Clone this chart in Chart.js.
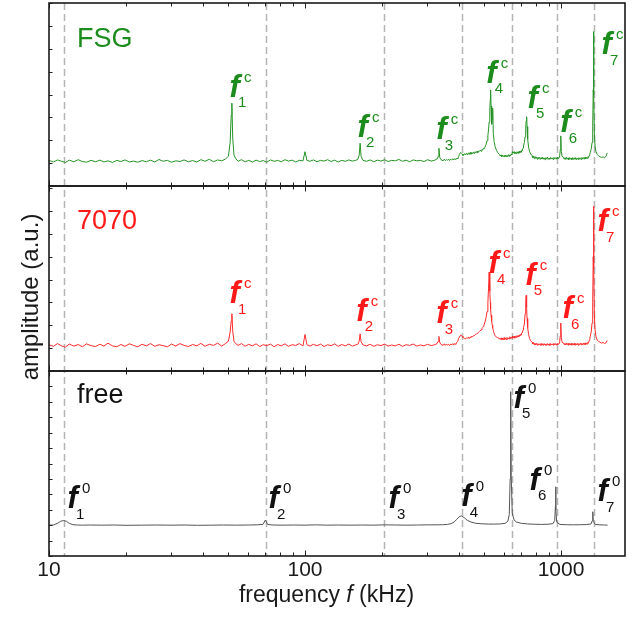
<!DOCTYPE html>
<html><head><meta charset="utf-8">
<script src="https://cdn.jsdelivr.net/npm/chart.js@4.4.1/dist/chart.umd.min.js"></script>
<style>html,body{margin:0;padding:0;background:#fff;}#wrap{position:relative;width:635px;height:617px;}</style>
</head><body><div id="wrap"><canvas id="c"></canvas></div>
<script>
// ---------- data ----------
const compFreq = [
  10, 10.4, 10.8, 11.2, 11.6, 12.0, 12.5, 13.0, 13.5, 14.0, 14.6, 15.2, 15.8, 16.4, 17.0, 17.7, 18.4, 19.1, 19.8, 20.6,
  21.4, 22.2, 23.1, 24.0, 24.9, 25.9, 26.9, 27.9, 29.0, 30.1, 31.3, 32.5, 33.7, 35.0, 36.4, 37.8, 39.2, 40.7, 42.3, 43.9,
  45.6, 47.3, 48.9,
  50.2, 51.0, 51.5, 51.8, 52.2, 52.8, 53.6,
  54.8, 56.5, 58.4, 60.3, 62.3, 64.4, 66.5, 68.7, 71.0, 73.3, 75.7, 78.2, 80.8, 83.5, 86.2, 89.1, 92.0, 95.0, 98.2, 100.0,
  101.8, 104.5, 107.9, 111.4, 115.0, 118.7, 122.5, 126.5, 130.6, 134.8, 139.2, 143.7, 148.3, 153.1, 157.5, 160.8,
  162.8, 164.2, 165.6, 168.5,
  174, 179.7, 185.6, 191.7, 198, 204.5, 211.2, 218.1, 225.3, 232.7, 240.3, 248.2, 256.3, 264.7, 273.4, 282.4, 291.6, 301.2, 311.1, 321.3, 328,
  331.5, 333.5, 336, 340,
  346, 350, 353, 357, 360, 364, 367, 371, 374, 378, 381, 385, 388, 392, 395, 398, 401, 404, 406, 409,
  411, 414, 417, 421, 424, 428, 431, 435, 438, 442, 445, 449, 452, 456, 459, 463, 466, 470, 473, 477,
  480, 484, 487, 491, 494, 497, 500,
  505, 510, 514, 518, 521, 524, 527, 529.5, 531, 533, 536, 539, 541, 544, 548, 553, 560, 567,
  575, 579, 583, 587, 591, 595, 599, 603, 607, 611, 615, 619, 623, 627, 631, 635, 639, 643, 646, 649,
  652, 656, 659, 663, 666, 670, 673, 677, 680, 684, 687, 691, 694, 698, 701, 705, 708, 711, 714,
  719, 724, 728, 731, 734, 737, 741, 747, 754, 762,
  771, 776, 781, 786, 791, 796, 802, 807, 813, 818, 824, 830, 836, 842, 848, 854, 860, 866, 872, 878,
  885, 891, 898, 904, 911, 917, 924, 931, 938, 945, 952, 959, 966, 972, 978, 983, 988,
  994, 998, 1003, 1010,
  1022, 1029, 1036, 1043, 1050, 1057, 1065, 1072, 1080, 1087, 1095, 1102, 1110, 1118, 1126, 1134, 1142, 1150, 1158, 1166,
  1174, 1182, 1190, 1198, 1207, 1215, 1224, 1232, 1241, 1249, 1258, 1266, 1274, 1281, 1288, 1294, 1300,
  1312, 1322, 1330, 1336, 1340, 1344, 1350, 1358, 1370,
  1385, 1402, 1420, 1440, 1460, 1480, 1500, 1515
];
const fsgAmp = [
  0.12, 0.05, 0.14, 0.08, 0.03, 0.13, 0.06, 0.15, 0.07, 0.04, 0.12, 0.06, 0.13, 0.05, 0.10, 0.03, 0.12, 0.07, 0.14, 0.05,
  0.09, 0.04, 0.11, 0.06, 0.13, 0.05, 0.16, 0.08, 0.12, 0.04, 0.10, 0.07, 0.14, 0.06, 0.11, 0.05, 0.15, 0.08, 0.17, 0.06,
  0.14, 0.10, 0.18,
  0.30, 0.90, 2.10, 2.62, 1.10, 0.35, 0.20,
  0.08, 0.15, 0.06, 0.12, 0.05, 0.13, 0.07, 0.11, 0.04, 0.14, 0.08, 0.12, 0.06, 0.15, 0.09, 0.13, 0.05, 0.12, 0.10, 0.50,
  0.12, 0.08, 0.14, 0.06, 0.12, 0.09, 0.15, 0.07, 0.13, 0.05, 0.12, 0.08, 0.14, 0.09, 0.12, 0.16,
  0.35, 0.87, 0.30, 0.12,
  0.08, 0.14, 0.06, 0.13, 0.09, 0.15, 0.07, 0.12, 0.10, 0.16, 0.08, 0.13, 0.06, 0.14, 0.10, 0.12, 0.07, 0.15, 0.09, 0.13, 0.18,
  0.30, 0.65, 0.25, 0.15,
  0.10, 0.17, 0.11, 0.16, 0.12, 0.18, 0.11, 0.17, 0.13, 0.19, 0.14, 0.20, 0.15, 0.22, 0.18, 0.28, 0.38, 0.45, 0.46, 0.42,
  0.40, 0.33, 0.35, 0.42, 0.37, 0.43, 0.36, 0.45, 0.38, 0.47, 0.39, 0.46, 0.41, 0.49, 0.42, 0.50, 0.45, 0.52, 0.46, 0.53,
  0.52, 0.57, 0.52, 0.60, 0.58, 0.64, 0.62,
  0.70, 0.82, 0.98, 1.20, 1.45, 1.80, 2.30, 2.80, 3.20, 2.50, 1.70, 1.90, 2.40, 1.30, 0.95, 0.72, 0.55, 0.45,
  0.38, 0.31, 0.36, 0.29, 0.35, 0.28, 0.33, 0.27, 0.35, 0.29, 0.34, 0.28, 0.37, 0.30, 0.36, 0.31, 0.40, 0.36, 0.50, 0.44,
  0.48, 0.42, 0.50, 0.43, 0.47, 0.41, 0.50, 0.44, 0.49, 0.43, 0.52, 0.46, 0.52, 0.48, 0.56, 0.55, 0.62, 0.66, 0.75,
  0.90, 1.15, 1.50, 1.85, 2.03, 1.60, 1.05, 0.70, 0.50, 0.40,
  0.32, 0.24, 0.30, 0.20, 0.29, 0.21, 0.27, 0.17, 0.26, 0.19, 0.25, 0.16, 0.24, 0.18, 0.26, 0.17, 0.23, 0.15, 0.24, 0.18,
  0.26, 0.16, 0.22, 0.17, 0.25, 0.18, 0.23, 0.16, 0.25, 0.19, 0.24, 0.17, 0.25, 0.19, 0.23, 0.26, 0.32,
  0.60, 1.19, 0.50, 0.30,
  0.26, 0.18, 0.24, 0.16, 0.25, 0.17, 0.23, 0.15, 0.24, 0.17, 0.22, 0.15, 0.24, 0.16, 0.23, 0.17, 0.24, 0.15, 0.22, 0.16,
  0.24, 0.17, 0.23, 0.16, 0.25, 0.18, 0.24, 0.17, 0.26, 0.19, 0.25, 0.20, 0.28, 0.24, 0.33, 0.36, 0.45,
  0.60, 0.90, 1.60, 3.20, 5.75, 3.00, 1.30, 0.75, 0.50,
  0.38, 0.32, 0.28, 0.25, 0.27, 0.24, 0.30, 0.45
];
const glassAmp = [
  0.15, 0.08, 0.20, 0.10, 0.05, 0.18, 0.09, 0.16, 0.06, 0.19, 0.11, 0.07, 0.17, 0.09, 0.22, 0.10, 0.06, 0.16, 0.08, 0.19,
  0.12, 0.06, 0.17, 0.10, 0.20, 0.08, 0.15, 0.11, 0.06, 0.18, 0.09, 0.20, 0.12, 0.07, 0.16, 0.10, 0.21, 0.08, 0.17, 0.12,
  0.22, 0.09, 0.20,
  0.30, 0.70, 1.20, 1.51, 0.75, 0.30, 0.20,
  0.12, 0.20, 0.08, 0.17, 0.10, 0.19, 0.07, 0.15, 0.11, 0.18, 0.06, 0.16, 0.10, 0.19, 0.08, 0.15, 0.12, 0.20, 0.10, 0.60,
  0.15, 0.09, 0.17, 0.10, 0.18, 0.07, 0.15, 0.11, 0.19, 0.08, 0.16, 0.10, 0.18, 0.09, 0.14, 0.17,
  0.30, 0.63, 0.28, 0.14,
  0.10, 0.17, 0.08, 0.15, 0.11, 0.18, 0.09, 0.14, 0.10, 0.17, 0.08, 0.15, 0.12, 0.18, 0.09, 0.14, 0.10, 0.17, 0.11, 0.15, 0.20,
  0.30, 0.51, 0.25, 0.16,
  0.12, 0.19, 0.12, 0.18, 0.13, 0.17, 0.11, 0.18, 0.14, 0.20, 0.14, 0.21, 0.16, 0.26, 0.30, 0.42, 0.48, 0.55, 0.58, 0.55,
  0.52, 0.47, 0.45, 0.41, 0.40, 0.46, 0.44, 0.48, 0.42, 0.49, 0.47, 0.53, 0.50, 0.56, 0.55, 0.60, 0.60, 0.65, 0.66, 0.70,
  0.72, 0.76, 0.80, 0.85, 0.90, 0.95, 1.00,
  1.15, 1.35, 1.60, 2.00, 2.60, 3.33, 2.50, 2.00, 1.70, 1.45, 1.20, 1.00, 0.90, 0.78, 0.65, 0.55, 0.48, 0.45,
  0.42, 0.38, 0.45, 0.37, 0.43, 0.36, 0.46, 0.38, 0.44, 0.37, 0.47, 0.39, 0.45, 0.40, 0.50, 0.42, 0.47, 0.43, 0.52, 0.45,
  0.50, 0.44, 0.53, 0.46, 0.52, 0.47, 0.55, 0.49, 0.54, 0.50, 0.58, 0.53, 0.60, 0.58, 0.66, 0.68, 0.75, 0.80, 0.90,
  1.05, 1.50, 2.00, 2.31, 1.80, 1.30, 0.90, 0.60, 0.42, 0.32,
  0.26, 0.19, 0.24, 0.15, 0.22, 0.14, 0.21, 0.13, 0.20, 0.14, 0.19, 0.12, 0.20, 0.13, 0.19, 0.12, 0.20, 0.13, 0.18, 0.12,
  0.20, 0.13, 0.19, 0.12, 0.20, 0.14, 0.19, 0.13, 0.21, 0.14, 0.20, 0.13, 0.20, 0.15, 0.19, 0.22, 0.30,
  0.55, 1.10, 0.45, 0.25,
  0.23, 0.16, 0.21, 0.14, 0.22, 0.15, 0.21, 0.13, 0.20, 0.14, 0.21, 0.13, 0.20, 0.14, 0.21, 0.13, 0.20, 0.14, 0.21, 0.13,
  0.20, 0.14, 0.22, 0.15, 0.21, 0.14, 0.22, 0.15, 0.23, 0.16, 0.23, 0.18, 0.27, 0.24, 0.33, 0.38, 0.50,
  0.70, 1.10, 2.00, 4.00, 6.21, 3.50, 1.50, 0.80, 0.50,
  0.35, 0.30, 0.26, 0.22, 0.25, 0.20, 0.24, 0.34
];
const freeFreq = [
  10, 10.4, 10.8, 11.1, 11.4, 11.7, 12.0, 12.4, 12.9, 13.5, 14.5, 16, 18, 20, 23, 26, 30, 34, 38, 43,
  48, 54, 60, 65, 68.5, 70.0, 71.5, 75, 82, 90, 100, 110, 122, 135, 150, 166, 184, 204, 226, 250,
  275, 300, 325, 345, 360, 372, 382, 392, 400, 408, 418, 430, 445, 465, 490, 520, 550, 580, 605, 620,
  628, 633, 636, 639, 645, 655, 670, 700, 740, 790, 840, 890, 930, 945, 951, 953, 956, 962, 990, 1050,
  1120, 1190, 1260, 1310, 1326, 1331, 1336, 1360, 1420, 1480, 1520
];
const freeAmp = [
  0.00, 0.01, 0.12, 0.25, 0.30, 0.25, 0.12, 0.03, 0.01, 0.00, 0.01, 0.00, 0.01, -0.01, 0.00, 0.01, 0.00, 0.01, -0.01, 0.00,
  0.01, 0.00, 0.01, 0.02, 0.05, 0.33, 0.04, 0.01, 0.00, 0.01, 0.00, 0.02, 0.00, 0.01, 0.00, 0.01, 0.00, 0.02, 0.01, 0.00,
  0.01, 0.02, 0.02, 0.03, 0.05, 0.10, 0.20, 0.38, 0.55, 0.60, 0.50, 0.32, 0.20, 0.12, 0.09, 0.07, 0.07, 0.08, 0.12, 0.25,
  0.70, 3.00, 8.66, 3.20, 0.80, 0.35, 0.20, 0.12, 0.08, 0.06, 0.05, 0.06, 0.10, 0.30, 1.20, 2.49, 1.00, 0.20, 0.05, 0.03,
  0.02, 0.03, 0.04, 0.08, 0.30, 0.87, 0.25, 0.05, 0.02, 0.01, 0.00
];
const freeModes = [11.47, 70.4, 204, 412, 645, 967, 1349];
const xTickLabels = [10, 100, 1000];
const xMinorTicks = [20, 30, 40, 50, 60, 70, 80, 90, 200, 300, 400, 500, 600, 700, 800, 900];
const panelNames = ['FSG', '7070', 'free'];
const modeSubs = ['1', '2', '3', '4', '5', '6', '7'];
// label anchors (frequency, amplitude) of each mode label
const fsgLabelFreq = [50.93, 161.1, 326.9, 512.5, 743, 997, 1446];
const fsgLabelAmp = [2.91, 1.16, 1.04, 3.52, 2.43, 1.34, 4.76];
const glassLabelFreq = [50.93, 159.2, 326.9, 523.2, 727.9, 1018, 1395];
const glassLabelAmp = [1.97, 1.21, 1.10, 3.29, 2.78, 1.32, 5.11];
const freeLabelFreq = [11.86, 72.36, 212.9, 409.4, 655.3, 756.6, 1395];
const freeLabelAmp = [1.12, 1.12, 1.12, 1.23, 7.62, 2.31, 1.55];

// ---------- drawing ----------
const SANS = '"Liberation Sans", Arial, sans-serif';
const panels = [
  {id: 'yTop', name: panelNames[0], color: '#1c8c1c', lf: fsgLabelFreq, la: fsgLabelAmp, sup: 'c', nameDy: 44},
  {id: 'yMid', name: panelNames[1], color: '#ff1a1a', lf: glassLabelFreq, la: glassLabelAmp, sup: 'c', nameDy: 43.3},
  {id: 'yBot', name: panelNames[2], color: '#111111', lf: freeLabelFreq, la: freeLabelAmp, sup: '0', nameDy: 31.7}
];

const decor = {
  id: 'decor',
  beforeDatasetsDraw(chart) {
    const {ctx, chartArea: a, scales: {x}} = chart;
    ctx.save();
    ctx.strokeStyle = '#b4b4b4';
    ctx.lineWidth = 1.5;
    ctx.setLineDash([7, 4]);
    freeModes.forEach(f => {
      const px = Math.round(x.getPixelForValue(f)) + 0.5;
      ctx.beginPath(); ctx.moveTo(px, a.top); ctx.lineTo(px, a.bottom); ctx.stroke();
    });
    ctx.restore();
  },
  afterDatasetsDraw(chart) {
    const {ctx, scales} = chart;
    const x = scales.x;
    ctx.save();
    panels.forEach(p => {
      const y = scales[p.id];
      const L = x.left, R = x.right, T = y.top, B = y.bottom;
      ctx.setLineDash([]);
      ctx.strokeStyle = '#222';
      ctx.lineWidth = 1;
      ctx.beginPath();
      xMinorTicks.forEach(v => {
        const px = Math.round(x.getPixelForValue(v)) + 0.5;
        ctx.moveTo(px, T); ctx.lineTo(px, T + 3.5);
        ctx.moveTo(px, B); ctx.lineTo(px, B - 3.5);
      });
      xTickLabels.forEach(v => {
        const px = Math.round(x.getPixelForValue(v)) + 0.5;
        ctx.moveTo(px, T); ctx.lineTo(px, T + 5.5);
        ctx.moveTo(px, B); ctx.lineTo(px, B - 5.5);
      });
      for (let v = Math.ceil(y.min); v <= y.max; v++) {
        const py = Math.round(y.getPixelForValue(v)) + 0.5;
        ctx.moveTo(L, py); ctx.lineTo(L + 3.5, py);
      }
      ctx.stroke();
      ctx.lineWidth = 1.6;
      ctx.strokeStyle = '#1a1a1a';
      ctx.strokeRect(L, T, R - L, B - T);

      ctx.fillStyle = p.color;
      ctx.textAlign = 'left';
      ctx.textBaseline = 'alphabetic';
      ctx.font = '27px ' + SANS;
      ctx.fillText(p.name, L + 28, T + p.nameDy);
      p.lf.forEach((f, i) => {
        const px = x.getPixelForValue(f), py = y.getPixelForValue(p.la[i]);
        ctx.font = 'italic bold 31px ' + SANS;
        ctx.fillText('f', px - 0.5, py);
        ctx.font = '15px ' + SANS;
        ctx.fillText(p.sup, px + 14, py - 15);
        ctx.fillText(modeSubs[i], px + 8, py + 10.6);
      });
    });
    ctx.restore();
  },
  afterDraw(chart) {
    const {ctx} = chart;
    ctx.save();
    ctx.fillStyle = '#1a1a1a';
    ctx.textBaseline = 'alphabetic';
    const parts = [['frequency ', '23px ' + SANS], ['f', 'italic 23px ' + SANS], [' (kHz)', '23px ' + SANS]];
    let w = 0;
    parts.forEach(pt => { ctx.font = pt[1]; w += ctx.measureText(pt[0]).width; });
    let cx = 326.5 - w / 2;
    ctx.textAlign = 'left';
    parts.forEach(pt => { ctx.font = pt[1]; ctx.fillText(pt[0], cx, 602); cx += ctx.measureText(pt[0]).width; });
    ctx.translate(37.5, 297);
    ctx.rotate(-Math.PI / 2);
    ctx.textAlign = 'center';
    ctx.font = '24px ' + SANS;
    ctx.fillText('amplitude (a.u.)', 0, 0);
    ctx.restore();
  }
};

const pts = (xs, ys) => xs.map((v, i) => ({x: v, y: ys[i]}));

new Chart(document.getElementById('c'), {
  type: 'line',
  data: {
    datasets: [
      {data: pts(compFreq, fsgAmp), yAxisID: 'yTop', borderColor: '#239323', borderWidth: 1, pointRadius: 0, tension: 0},
      {data: pts(compFreq, glassAmp), yAxisID: 'yMid', borderColor: '#ff2a2a', borderWidth: 1, pointRadius: 0, tension: 0},
      {data: pts(freeFreq, freeAmp), yAxisID: 'yBot', borderColor: '#555555', borderWidth: 1, pointRadius: 0, tension: 0}
    ]
  },
  options: {
    responsive: true,
    maintainAspectRatio: false,
    animation: false,
    events: [],
    layout: {padding: {left: 49, right: 10, top: 3, bottom: 0}},
    plugins: {legend: {display: false}, tooltip: {enabled: false}},
    scales: {
      x: {
        type: 'logarithmic', position: 'bottom', min: 10, max: 1778.28,
        grid: {display: false, drawTicks: false}, border: {display: false},
        afterBuildTicks: s => { s.ticks = xTickLabels.map(v => ({value: v})); },
        afterFit: s => { s.height = 61; },
        ticks: {autoSkip: false, maxRotation: 0, padding: 2, color: '#1a1a1a', font: {family: SANS, size: 21},
          callback: v => String(v)}
      },
      yBot: {type: 'linear', position: 'left', stack: 'p', stackWeight: 185, min: -2, max: 10, display: false},
      yMid: {type: 'linear', position: 'left', stack: 'p', stackWeight: 185, min: -1, max: 7.1, display: false},
      yTop: {type: 'linear', position: 'left', stack: 'p', stackWeight: 183, min: -1, max: 7, display: false}
    }
  },
  plugins: [decor]
});
</script></body></html>
